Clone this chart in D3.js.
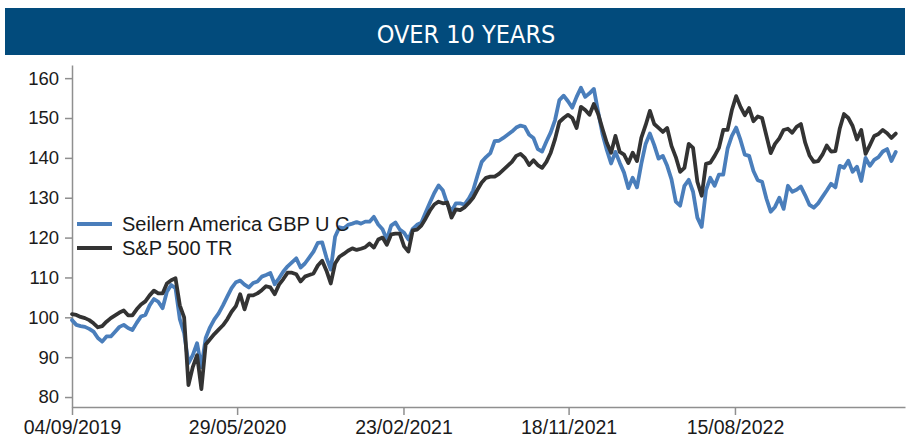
<!DOCTYPE html>
<html><head><meta charset="utf-8">
<script src="https://cdn.jsdelivr.net/npm/d3@7"></script>
<style>body{margin:0;background:#fff} svg{display:block}</style>
</head><body><svg id="chart" width="909" height="438"></svg>
<script>
const title = "OVER 10 YEARS";
const seriesNames = ["Seilern America GBP U C", "S&P 500 TR"];
const seriesColors = ["#4a7ebb", "#333333"];
const startDate = "2019-09-04";   // first weekly observation
const axisEndDate = "2023-05-18";
const xTickLabels = ["04/09/2019", "29/05/2020", "23/02/2021", "18/11/2021", "15/08/2022"];
const yTicks = [80, 90, 100, 110, 120, 130, 140, 150, 160];

// weekly values
const seilern = [
 99.3,98.1,97.8,97.6,97.1,96.4,94.8,93.9,95.2,95.2,96.4,97.6,98.1,97.3,96.8,98.6,100.2,100.6,103.0,104.6,
 103.9,102.3,106.4,108.1,107.3,99.5,96.0,88.5,90.5,93.5,87.5,94.8,97.5,99.5,101.0,103.0,105.2,107.3,108.8,109.2,
 108.2,107.5,108.6,109.0,110.2,110.6,111.1,108.3,109.8,111.5,112.8,113.8,114.8,112.5,113.5,115.0,116.5,118.7,118.8,115.0,
 112.0,120.2,122.6,122.3,123.2,123.5,123.9,123.5,124.0,124.0,125.2,123.3,122.1,119.5,123.0,123.8,122.0,121.2,119.5,122.2,
 123.2,123.7,126.3,128.8,131.2,133.1,131.8,128.5,126.6,128.6,128.6,128.3,129.8,131.8,135.5,139.0,140.2,141.2,144.2,144.3,
 145.0,145.8,146.6,147.6,148.1,147.8,145.8,145.0,142.2,141.6,144.1,146.4,149.5,154.5,155.6,154.2,152.6,155.3,157.6,155.3,
 156.2,157.3,151.5,146.0,142.0,138.6,141.5,138.8,136.3,132.4,135.0,132.6,138.5,143.5,146.1,143.2,139.8,140.5,138.0,134.6,
 129.0,128.0,133.0,134.5,131.5,125.0,122.7,131.9,135.0,133.0,135.8,135.8,142.3,145.5,147.6,144.5,140.8,140.5,136.7,134.4,
 134.0,129.8,126.5,127.7,130.0,127.2,133.0,131.5,132.0,132.8,130.6,128.2,127.5,128.6,130.2,131.8,133.5,132.6,138.0,137.5,
 139.3,136.5,137.8,134.2,140.0,138.0,139.5,140.2,141.6,142.2,139.2,141.5
];
const sp500 = [
 100.8,100.6,100.1,99.8,99.3,98.5,97.5,97.8,98.9,99.8,100.5,101.2,101.7,100.5,100.5,102.0,103.2,104.0,105.5,106.7,
 106.0,106.0,108.5,109.3,109.8,103.0,100.0,83.0,87.5,90.5,82.0,93.2,94.5,95.8,96.9,98.0,99.5,101.4,102.8,105.8,
 102.0,105.5,105.5,106.0,106.8,107.8,107.5,105.8,108.2,109.6,111.2,111.2,110.8,109.0,110.2,110.6,111.0,113.0,114.2,111.7,
 108.5,113.5,115.2,115.9,116.7,117.3,116.9,117.2,117.6,118.5,117.5,119.5,120.0,118.2,120.8,121.0,121.0,117.8,116.5,121.8,
 122.0,123.0,124.8,126.8,128.3,129.0,128.6,128.8,125.0,127.1,126.9,127.6,128.7,130.0,132.0,133.8,135.0,135.3,135.3,136.0,
 137.0,138.0,139.0,140.5,141.0,140.0,138.2,139.4,138.2,137.5,139.0,141.3,144.7,149.0,150.0,150.8,150.0,147.5,152.8,152.0,
 150.8,153.5,151.0,147.3,143.8,141.3,145.5,141.5,140.8,138.7,141.3,139.2,145.0,148.2,151.8,148.5,147.5,146.5,147.5,143.0,
 140.2,136.5,137.5,143.5,142.5,134.0,130.5,138.5,138.8,140.5,142.5,147.0,147.0,152.0,155.5,152.8,150.7,152.5,149.2,150.4,
 150.0,145.6,141.2,143.5,144.9,147.0,147.3,146.3,147.8,148.5,143.8,140.6,139.0,139.2,140.8,143.1,141.6,141.7,147.3,151.0,
 150.0,148.0,144.6,147.0,141.0,143.2,145.5,146.0,147.0,146.2,145.0,146.1
];

const svg = d3.select("#chart");
const W = 909, H = 438;
const margin = {left: 72, right: 4, top: 65, bottom: 31};

// title bar
svg.append("rect").attr("x", 5).attr("y", 8).attr("width", 900).attr("height", 47).attr("fill", "#024b7c");
svg.append("text").attr("x", 466).attr("y", 43).attr("text-anchor", "middle")
  .attr("fill", "#ffffff").style("font-family", "'DejaVu Sans Condensed','DejaVu Sans',sans-serif")
  .style("font-stretch", "condensed").style("font-size", "25px").text(title);

const parseISO = d3.timeParse("%Y-%m-%d");
const parseTick = d3.timeParse("%d/%m/%Y");
const start = parseISO(startDate);
const dates = seilern.map((_, i) => d3.timeDay.offset(start, 7 * i));

const x = d3.scaleTime().domain([start, parseISO(axisEndDate)]).range([margin.left, W - margin.right]);
const y = d3.scaleLinear().domain([77.5, 163.3]).range([H - margin.bottom, margin.top]);

const axisColor = "#8f8f8f";
const gy = svg.append("g").attr("transform", `translate(${margin.left},0)`)
  .call(d3.axisLeft(y).tickValues(yTicks).tickSize(7).tickSizeOuter(0).tickPadding(6));
const gx = svg.append("g").attr("transform", `translate(0,${H - margin.bottom})`)
  .call(d3.axisBottom(x).tickValues(xTickLabels.map(parseTick)).tickSize(8).tickSizeOuter(0)
    .tickPadding(5).tickFormat(d3.timeFormat("%d/%m/%Y")));
[gx, gy].forEach(g => {
  g.selectAll("path, line").attr("stroke", axisColor).attr("stroke-width", 1.5);
  g.selectAll("text").attr("fill", "#1a1a1a").style("font-family", "'Liberation Sans',Arial,sans-serif");
});
gy.selectAll("text").style("font-size", "18.5px");
gx.selectAll("text").style("font-size", "19.5px");

const line = d3.line().x((d, i) => x(dates[i])).y(d => y(d));
[seilern, sp500].forEach((s, k) => {
  svg.append("path").datum(s).attr("d", line).attr("fill", "none")
    .attr("stroke", seriesColors[k]).attr("stroke-width", 3.8)
    .attr("stroke-linejoin", "round").attr("stroke-linecap", "round");
});

// legend
const lg = svg.append("g");
seriesNames.forEach((n, k) => {
  const ly = 224 + k * 24;
  lg.append("line").attr("x1", 77).attr("x2", 112).attr("y1", ly).attr("y2", ly)
    .attr("stroke", seriesColors[k]).attr("stroke-width", 3.8);
  lg.append("text").attr("x", 122).attr("y", ly).attr("dy", "0.35em")
    .attr("fill", "#1a1a1a").style("font-family", "'Liberation Sans',Arial,sans-serif")
    .style("font-size", "20px").text(n);
});
</script></body></html>
